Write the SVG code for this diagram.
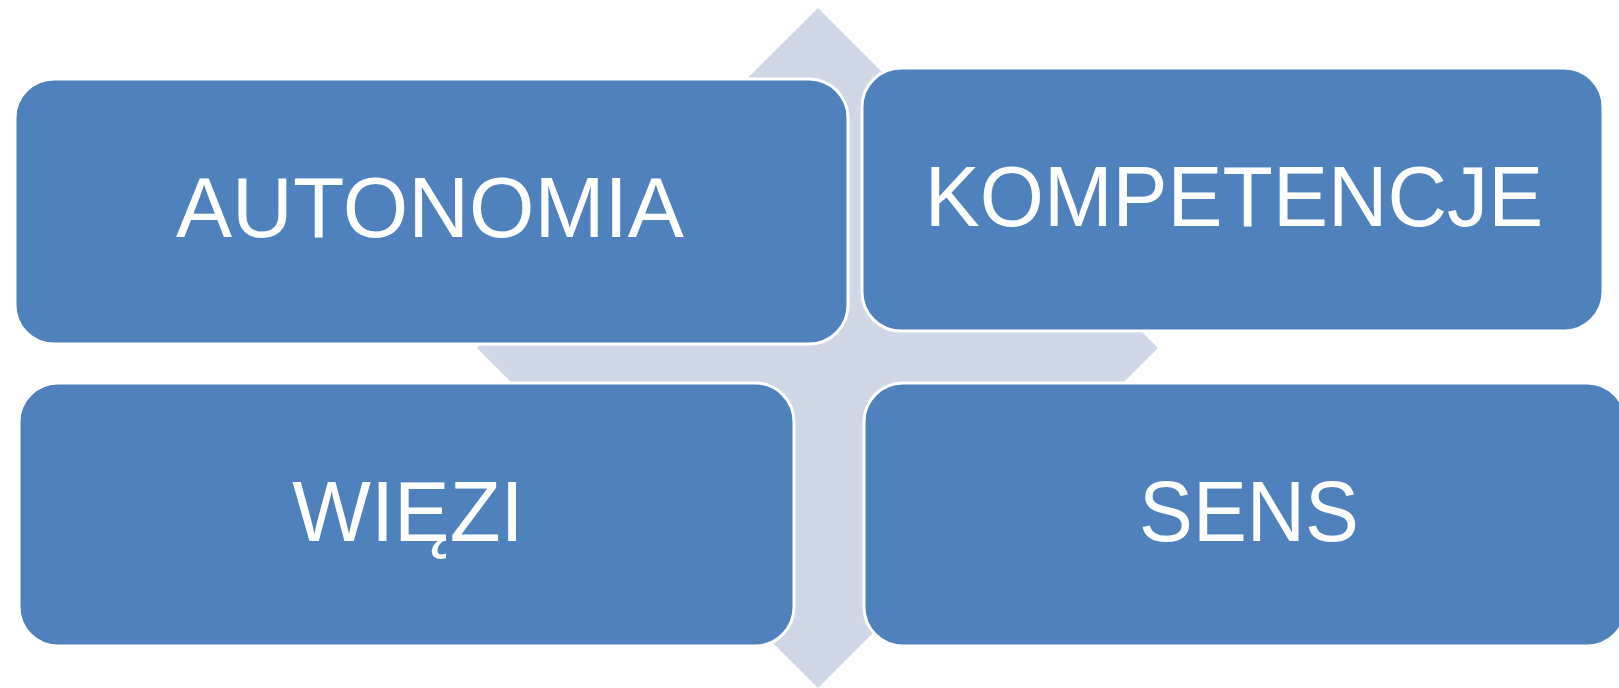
<svg xmlns="http://www.w3.org/2000/svg" width="1619" height="688" viewBox="0 0 1619 688">
  <style>
    .bg { fill: #D0D8E8; }
    .box { fill: #4F81BD; stroke: #FFFFFF; stroke-width: 3; }
    .lbl { font-family: "Liberation Sans", Arial, sans-serif; font-size: 85px; fill: #FFFFFF; text-anchor: middle; }
  </style>
  <rect width="1619" height="688" fill="#FFFFFF"/>
  <g id="background">
    <polygon class="bg" points="818,8 1158,348 818,688 477,348"/>
  </g>
  <g id="connectors"></g>
  <g id="node-autonomia">
    <rect class="box" x="15" y="79" width="833" height="265" rx="39" ry="39"/>
    <text class="lbl" transform="translate(430,237) scale(0.99,1)">AUTONOMIA</text>
  </g>
  <g id="node-kompetencje">
    <rect class="box" x="862" y="68" width="741" height="263" rx="39" ry="39"/>
    <text class="lbl" transform="translate(1234,226) scale(0.97,1)">KOMPETENCJE</text>
  </g>
  <g id="node-wiezi">
    <rect class="box" x="19" y="383" width="775" height="263" rx="39" ry="39"/>
    <text class="lbl" transform="translate(408,541) scale(0.98,1)">WIĘZI</text>
  </g>
  <g id="node-sens">
    <rect class="box" x="864" y="383" width="762" height="263" rx="39" ry="39"/>
    <text class="lbl" transform="translate(1249,541) scale(0.95,1)">SENS</text>
  </g>
</svg>
